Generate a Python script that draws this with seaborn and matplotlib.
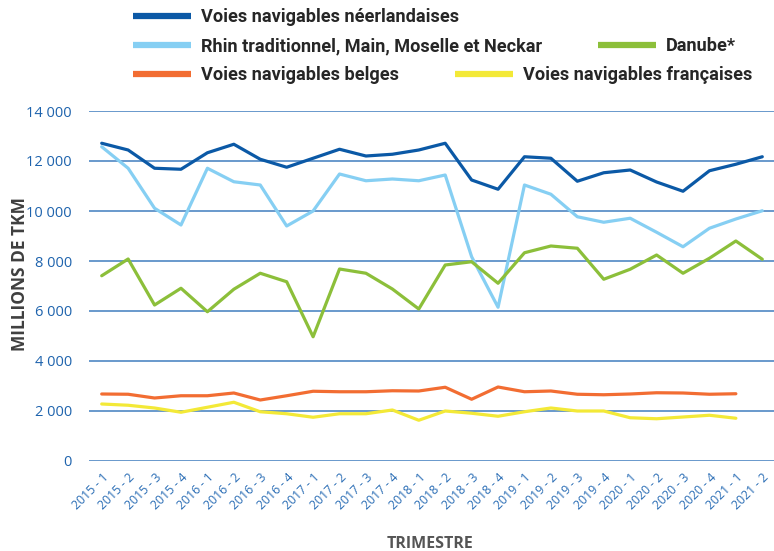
import numpy as np
import pandas as pd
import matplotlib
matplotlib.use('Agg')
import matplotlib.pyplot as plt
import seaborn as sns

trimestres = ['2015 - 1', '2015 - 2', '2015 - 3', '2015 - 4',
              '2016 - 1', '2016 - 2', '2016 - 3', '2016 - 4',
              '2017 - 1', '2017 - 2', '2017 - 3', '2017 - 4',
              '2018 - 1', '2018 - 2', '2018 - 3', '2018 - 4',
              '2019 - 1', '2019 - 2', '2019 - 3', '2019 - 4',
              '2020 - 1', '2020 - 2', '2020 - 3', '2020 - 4',
              '2021 - 1', '2021 - 2']

neerlandaises = [12710, 12440, 11710, 11670, 12330, 12670, 12070, 11750,
                 12110, 12470, 12200, 12270, 12440, 12710, 11240, 10870,
                 12170, 12110, 11190, 11530, 11640, 11160, 10790, 11610,
                 11870, 12170]
rhin = [12570, 11710, 10110, 9440, 11710, 11170, 11040, 9400,
        10000, 11480, 11210, 11280, 11210, 11440, 8170, 6150,
        11040, 10670, 9770, 9550, 9710, 9150, 8570, 9310,
        9680, 10010]
danube = [7410, 8080, 6240, 6910, 5970, 6870, 7510, 7170,
          4970, 7680, 7510, 6880, 6080, 7840, 7970, 7110,
          8330, 8600, 8510, 7270, 7670, 8240, 7510, 8110,
          8800, 8070]
belges = [2680, 2670, 2520, 2610, 2610, 2720, 2440, 2610,
          2790, 2770, 2770, 2810, 2800, 2950, 2470, 2960,
          2770, 2800, 2670, 2650, 2680, 2730, 2720, 2670,
          2690, np.nan]
francaises = [2280, 2230, 2120, 1950, 2150, 2350, 1970, 1890,
              1750, 1890, 1890, 2040, 1630, 2000, 1910, 1790,
              1970, 2120, 2000, 2000, 1730, 1690, 1760, 1830,
              1710, np.nan]

series = {
    'Voies navigables néerlandaises': neerlandaises,
    'Rhin traditionnel, Main, Moselle et Neckar': rhin,
    'Danube*': danube,
    'Voies navigables belges': belges,
    'Voies navigables françaises': francaises,
}
couleurs = {
    'Voies navigables néerlandaises': '#0B59A6',
    'Rhin traditionnel, Main, Moselle et Neckar': '#86CFF3',
    'Danube*': '#8CBF3A',
    'Voies navigables belges': '#F26D32',
    'Voies navigables françaises': '#F3E937',
}

rows = []
for nom, vals in series.items():
    for i, v in enumerate(vals):
        rows.append({'Trimestre': trimestres[i], 'pos': i, 'Série': nom, 'Valeur': v})
df = pd.DataFrame(rows).dropna()

sns.set_theme(style='white')
plt.rcParams['font.family'] = ['Open Sans', 'DejaVu Sans']

fig = plt.figure(figsize=(7.74, 5.51), dpi=100)
ax = fig.add_axes([88.5 / 774, 1 - 461 / 551, 687 / 774, 350 / 551])

sns.lineplot(data=df, x='pos', y='Valeur', hue='Série', palette=couleurs,
             hue_order=list(series.keys()), linewidth=2.3, sort=False, ax=ax,
             legend=True, zorder=3)
handles, labels = ax.get_legend_handles_labels()
ax.get_legend().remove()

ax.set_xlim(-0.5, len(trimestres) - 0.5)
ax.set_ylim(0, 14000)
yt = np.arange(0, 14001, 2000)
ax.set_yticks(yt)
ax.set_yticklabels([f'{v:,}'.replace(',', ' ') for v in yt], color='#1E63AD', fontsize=10.5)
for v in yt:
    ax.axhline(v, color='#4F87C4', lw=1.2, zorder=1)
ax.set_xticks(range(len(trimestres)))
ax.set_xticklabels(trimestres, rotation=45, ha='right', rotation_mode='anchor',
                   color='#2A6DB5', fontsize=8.8)
ax.tick_params(axis='y', length=0, pad=12)
ax.tick_params(axis='x', length=0, pad=7)
for s in ax.spines.values():
    s.set_visible(False)
ax.set_xlabel('')
ax.set_ylabel('')

fig.text(20 / 774, 1 - 274 / 551, 'MILLIONS DE TKM', rotation=90, ha='center', va='center',
         fontsize=12.5, fontweight='bold', color='#3F3F3F')
fig.text(430 / 774, 1 - 544 / 551, 'TRIMESTRE', ha='center', va='center',
         fontsize=11.5, fontweight='bold', color='#555555')

# legend laid out by hand, one entry per spot
spots = [(133, 17), (133, 46), (598, 46), (133, 75), (455, 75)]
for h, lab, (px, py) in zip(handles, labels, spots):
    hl = plt.Line2D([], [], color=h.get_color(), lw=4.5, solid_capstyle='butt')
    fig.legend([hl], [lab], loc='center left', bbox_to_anchor=(px / 774, 1 - py / 551),
               frameon=False, borderpad=0, borderaxespad=0, handlelength=3.2,
               handletextpad=0.55,
               prop={'family': ['Roboto', 'DejaVu Sans'],
                     'weight': 'bold', 'size': 13.1})

fig.savefig('out.png', dpi=100)
